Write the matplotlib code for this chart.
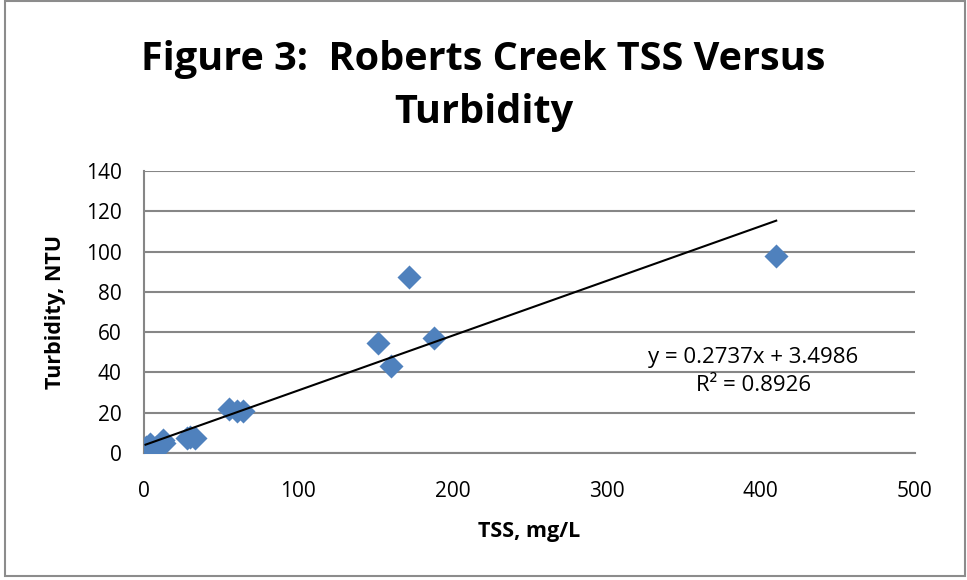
import matplotlib.pyplot as plt
from matplotlib.patches import Rectangle
import numpy as np

plt.rcParams['font.family'] = ['Open Sans', 'DejaVu Sans']

# TSS (mg/L) and turbidity (NTU) readings
tss = [1, 3, 4, 6, 8, 10, 12, 13, 28, 30, 33, 55, 60, 64, 152, 160, 172, 188, 410]
turbidity = [3, 2, 4.5, 1.5, 3, 4, 6.5, 5, 7.5, 8, 7.5, 22, 21, 21, 54.5, 43, 87.5, 57, 98]
trend_text = "y = 0.2737x + 3.4986\nR² = 0.8926"

x = np.array(tss)
y = np.array(turbidity)
slope, intercept = np.polyfit(x, y, 1)

fig = plt.figure(figsize=(9.67, 5.8), dpi=100)
ax = fig.add_axes([144 / 967, 1 - 453 / 580, (915 - 144) / 967, (453 - 171) / 580])

fig.patches.append(Rectangle((5 / 967, 4 / 580), 960 / 967, 575 / 580,
                             transform=fig.transFigure, fill=False,
                             edgecolor='#8c8c8c', linewidth=1.5))

ax.scatter(x, y, marker='D', s=150, color='#4f81bd', zorder=3, linewidths=0)
xs = np.array([x.min(), x.max()])
ax.plot(xs, slope * xs + intercept, color='black', linewidth=1.5, zorder=4)

ax.set_xlim(0, 500)
ax.set_ylim(0, 140)
ax.set_xticks(range(0, 501, 100))
ax.set_yticks(range(0, 141, 20))
ax.grid(axis='y', color='#868686', linewidth=1.5)
ax.set_axisbelow(True)
for side in ['top', 'right']:
    ax.spines[side].set_visible(False)
for side in ['left', 'bottom']:
    ax.spines[side].set_color('#868686')
    ax.spines[side].set_linewidth(1.5)
ax.tick_params(axis='x', length=0, labelsize=15, pad=20)
ax.tick_params(axis='y', length=0, labelsize=15, pad=16)

ax.set_xlabel("TSS, mg/L", fontsize=15.5, fontweight='bold', labelpad=14)
ax.set_ylabel("Turbidity, NTU", fontsize=15.5, fontweight='bold', labelpad=14)

ax.text(0.79, 0.29, trend_text, transform=ax.transAxes,
        ha='center', va='center', fontsize=16, linespacing=1.45)

fig.text(0.5, 0.852, "Figure 3:  Roberts Creek TSS Versus\nTurbidity",
         ha='center', va='center', fontsize=28.5, fontweight='bold', linespacing=1.45)

fig.savefig("out.png", dpi=100)
